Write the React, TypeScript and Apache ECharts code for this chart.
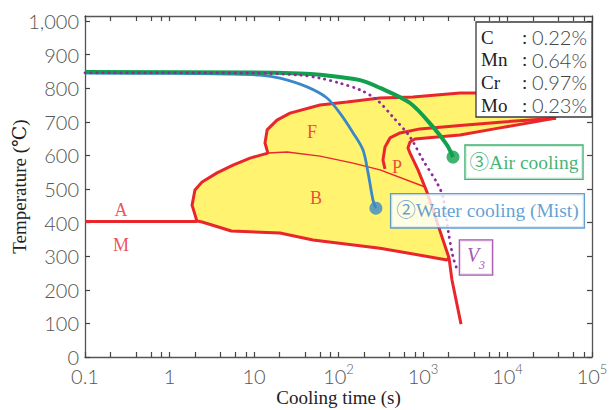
import React, { useEffect, useRef } from 'react';
import * as echarts from 'echarts';

type Pt = [number, number];

// Cooling curves: [cooling time (s), temperature (°C)]
const waterCooling: Pt[] = [
  [0.1, 845], [1, 844], [5, 842], [11.8, 839], [20.3, 830], [42.4, 804], [73, 771],
  [104, 726], [149, 667], [195, 616], [224, 548], [256, 467], [277, 443],
];
const airCooling: Pt[] = [
  [0.1, 848], [10, 847], [35, 844], [60.4, 840], [180, 824], [310, 801], [702, 756],
  [1312, 685], [1923, 631], [2265, 595],
];
const v3Curve: Pt[] = [
  [0.1, 846], [10, 845], [35, 839], [60.4, 830], [104, 815], [180, 795], [286, 765],
  [442, 714], [702, 655], [1000, 586], [1466, 518], [1726, 476], [1978, 378],
  [2265, 298], [2520, 262],
];

// Transformation boundaries
const msLine: Pt[] = [[0.1, 403], [2.12, 403]];
const startLine: Pt[] = [
  [2.12, 403], [1.85, 452], [2.0, 497], [2.43, 521], [3.65, 548], [5.64, 571],
  [8.97, 592], [14.6, 607], [13.5, 637], [14.3, 676], [18.7, 705], [26.7, 726],
  [60.4, 750], [126, 759], [310, 771], [762, 774], [2740, 786], [4357, 786],
  [14000, 790], [28000, 765], [37500, 711],
];
const pearliteStart: Pt[] = [
  [355, 560], [336, 586], [355, 625], [407, 652], [535, 667], [921, 679],
  [2740, 689], [8150, 699], [37500, 711],
];
const finishLine: Pt[] = [
  [37500, 711], [8150, 682], [2740, 661], [804, 649], [702, 640], [664, 622],
  [702, 607], [873, 557], [1114, 491], [2032, 295], [2203, 229], [2818, 98],
];
const bainiteLower: Pt[] = [
  [2.12, 405], [2.43, 402], [5.4, 375], [20.3, 369], [49.9, 348], [310, 324],
  [1923, 289], [2032, 295],
];
const ferriteBainite: Pt[] = [
  [14.6, 607], [24.6, 610], [60.4, 598], [149, 577], [310, 557], [1060, 506],
];

// Texts
const regionNames = ['A', 'M', 'F', 'B', 'P'];
const regionAt: Pt[] = [[0.267, 437], [0.267, 333], [48.5, 670], [54.2, 473], [492, 565]];
const compElements = ['C', 'Mn', 'Cr', 'Mo'];
const compValues = ['0.22%', '0.64%', '0.97%', '0.23%'];
const yTickValues = [0, 100, 200, 300, 400, 500, 600, 700, 800, 900, 1000];

const serif = "'Liberation Serif', 'DejaVu Serif', 'Noto Sans CJK JP', serif";
const sans = "Lato, 'Liberation Sans', sans-serif";
const red = '#e9262c';
const yellow = '#fff36f';
const blue = '#3b88c9';
const green = '#10a04e';
const purple = '#8d2b98';
const axisColor = '#555';
const labelColor = '#555';

const majorExp = [-1, 0, 1, 2, 3, 4, 5];
const minorExp: number[] = [];
for (let d = -1; d < 5; d++) for (const m of [2, 4, 6, 8]) minorExp.push(d + Math.log10(m));
const allExp = [...majorExp, ...minorExp].sort((a, b) => a - b);

const region: Pt[] = [
  ...startLine,
  ...finishLine.slice(1, finishLine.length - 2),
  ...bainiteLower.slice(0, -1).reverse(),
];

function line(data: Pt[], color: string, width: number, z: number, extra: any = {}) {
  return {
    type: 'line', data, xAxisIndex: 0, yAxisIndex: 0, symbol: 'none', showSymbol: false,
    silent: true, z, lineStyle: { color, width },
    smooth: extra.smooth ?? false,
  };
}

export default function App() {
  const ref = useRef<HTMLDivElement>(null);
  useEffect(() => {
    document.body.style.margin = '0';
    const chart = echarts.init(ref.current!, null, { renderer: 'svg' });
    const tickStyle = { color: '#444', width: 1.2 };
    const axisLine = { show: true, onZero: false, lineStyle: { color: axisColor, width: 1.3 } };
    const option: any = {
      animation: false,
      backgroundColor: '#fff',
      grid: [
        { left: 85, right: 21, top: 16, bottom: 53, outerBoundsMode: 'none' },
        { left: 85, right: 21, top: 16, bottom: 53, outerBoundsMode: 'none' },
      ],
      xAxis: [
        {
          type: 'log', logBase: 10, gridIndex: 0, min: 0.1, max: 100000, position: 'bottom',
          axisLine,
          axisTick: { show: false }, splitLine: { show: false },
          axisLabel: {
            margin: 5,
            formatter: (v: number) => {
              const e = Math.round(Math.log10(v));
              if (e === -1) return '{b|0.1}';
              if (e === 0) return '{b|1}';
              if (e === 1) return '{b|10}';
              return `{b|10}{s|${e}}`;
            },
            rich: {
              b: { fontSize: 20, fontFamily: sans, fontWeight: 300, color: labelColor, lineHeight: 24, verticalAlign: 'bottom' },
              s: { fontSize: 13, fontFamily: sans, fontWeight: 300, color: labelColor, lineHeight: 13, verticalAlign: 'top' },
            },
          },
          name: 'Cooling time (s)', nameLocation: 'middle', nameGap: 31, nameMoveOverlap: false,
          nameTextStyle: { fontFamily: serif, fontSize: 19, color: '#222' },
        },
        {
          type: 'value', gridIndex: 1, min: -1, max: 5, position: 'bottom',
          axisLine: { show: false, onZero: false },
          axisTick: { show: true, inside: true, length: 5, customValues: allExp, lineStyle: tickStyle },
          axisLabel: { show: false }, splitLine: { show: false },
        },
        {
          type: 'value', gridIndex: 1, min: -1, max: 5, position: 'top',
          axisLine,
          axisTick: { show: true, inside: true, length: 5, customValues: allExp, lineStyle: tickStyle },
          axisLabel: { show: false }, splitLine: { show: false },
        },
      ],
      yAxis: [
        {
          type: 'value', gridIndex: 0, min: 0, max: 1015, position: 'left',
          axisLine,
          axisTick: { show: true, inside: true, length: 5, customValues: yTickValues, lineStyle: tickStyle },
          axisLabel: {
            customValues: yTickValues, margin: 6, fontSize: 20, fontFamily: sans, fontWeight: 300, color: labelColor,
            formatter: (v: number) => (v === 1000 ? '1,000' : String(v)),
          },
          splitLine: { show: false },
          name: 'Temperature (℃)', nameLocation: 'middle', nameGap: 56, nameRotate: 90, nameMoveOverlap: false,
          nameTextStyle: { fontFamily: serif, fontSize: 19, color: '#222' },
        },
        {
          type: 'value', gridIndex: 1, min: 0, max: 1015, position: 'right',
          axisLine,
          axisTick: { show: true, inside: true, length: 5, customValues: yTickValues, lineStyle: tickStyle },
          axisLabel: { show: false }, splitLine: { show: false },
        },
      ],
      series: [
        {
          type: 'custom', xAxisIndex: 0, yAxisIndex: 0, z: 1, silent: true, data: [[1, 500]],
          renderItem: (_p: any, api: any) => ({
            type: 'polygon',
            shape: { points: region.map((p) => api.coord(p)) },
            style: { fill: yellow },
          }),
        },
        line(ferriteBainite, red, 1.4, 2),
        line(msLine, red, 3, 3),
        line(startLine, red, 3, 3),
        line(pearliteStart, red, 3, 3),
        line(finishLine, red, 3, 3),
        line(bainiteLower, red, 3, 3),
        line(waterCooling, blue, 2.8, 4, { smooth: 0.3 }),
        line(airCooling, green, 4, 5, { smooth: 0.3 }),
        {
          type: 'line', data: v3Curve, xAxisIndex: 0, yAxisIndex: 0, symbol: 'none', silent: true, z: 6,
          smooth: 0.3,
          lineStyle: { color: purple, width: 2.8, type: [0.3, 5.7], cap: 'round' },
        },
        {
          type: 'scatter', xAxisIndex: 0, yAxisIndex: 0, z: 7, silent: true, symbolSize: 13,
          data: [waterCooling[waterCooling.length - 1]], itemStyle: { color: blue },
        },
        {
          type: 'scatter', xAxisIndex: 0, yAxisIndex: 0, z: 7, silent: true, symbolSize: 13,
          data: [airCooling[airCooling.length - 1]], itemStyle: { color: green },
        },
        {
          type: 'scatter', xAxisIndex: 0, yAxisIndex: 0, z: 8, silent: true, symbolSize: 1,
          itemStyle: { color: 'transparent' },
          data: regionNames.map((n, i) => ({ name: n, value: regionAt[i] })),
          label: { show: true, position: 'inside', formatter: '{b}', color: red, fontSize: 18, fontFamily: serif },
        },
        {
          type: 'scatter', xAxisIndex: 0, yAxisIndex: 0, z: 9, silent: true, symbolSize: 1,
          itemStyle: { color: 'transparent' },
          data: [
            {
              name: '③Air cooling', value: [15670, 580],
              label: { color: green, borderColor: green, padding: [5, 4, 4, 4] },
            },
            {
              name: '②Water cooling (Mist)', value: [5800, 435],
              label: { color: blue, borderColor: blue, padding: [5, 5, 4, 5] },
            },
          ],
          label: {
            show: true, position: 'inside', formatter: '{b}', fontSize: 19.5, lineHeight: 24,
            fontFamily: serif, backgroundColor: '#fff', borderWidth: 1.3,
          },
        },
        {
          type: 'scatter', xAxisIndex: 0, yAxisIndex: 0, z: 9, silent: true, symbolSize: 1,
          itemStyle: { color: 'transparent' },
          data: [{ name: 'V3', value: [4240, 296] }],
          label: {
            show: true, position: 'inside', formatter: '{v|V}{s|3}',
            backgroundColor: '#fff', borderColor: purple, borderWidth: 1.2, padding: [4, 7, 4, 7],
            rich: {
              v: { fontSize: 20, fontStyle: 'italic', fontFamily: serif, color: purple, lineHeight: 22, verticalAlign: 'top' },
              s: { fontSize: 12, fontStyle: 'italic', fontFamily: serif, color: purple, lineHeight: 26, verticalAlign: 'bottom' },
            },
          },
        },
      ],
      graphic: [
        {
          type: 'group', x: 476, y: 22, z: 100,
          children: [
            {
              type: 'rect', z: 100, shape: { x: 0, y: 0, width: 116, height: 95 },
              style: { fill: '#fff', stroke: '#3a3a3a', lineWidth: 1.3 },
            },
            ...compElements.flatMap((el, i) => {
              const y = 15 + i * 22.7;
              return [
                { type: 'text', z: 101, style: { text: el, x: 5, y, verticalAlign: 'middle', fontSize: 19, fontFamily: serif, fill: '#222' } },
                { type: 'text', z: 101, style: { text: ':', x: 46, y, verticalAlign: 'middle', fontSize: 19, fontFamily: serif, fill: '#222' } },
                { type: 'text', z: 101, style: { text: compValues[i], x: 56, y, verticalAlign: 'middle', fontSize: 20, fontFamily: sans, fontWeight: 300, fill: '#444' } },
              ];
            }),
          ],
        },
      ],
    };
    chart.setOption(option);
    return () => chart.dispose();
  }, []);
  return <div ref={ref} style={{ width: 613, height: 410 }} />;
}
